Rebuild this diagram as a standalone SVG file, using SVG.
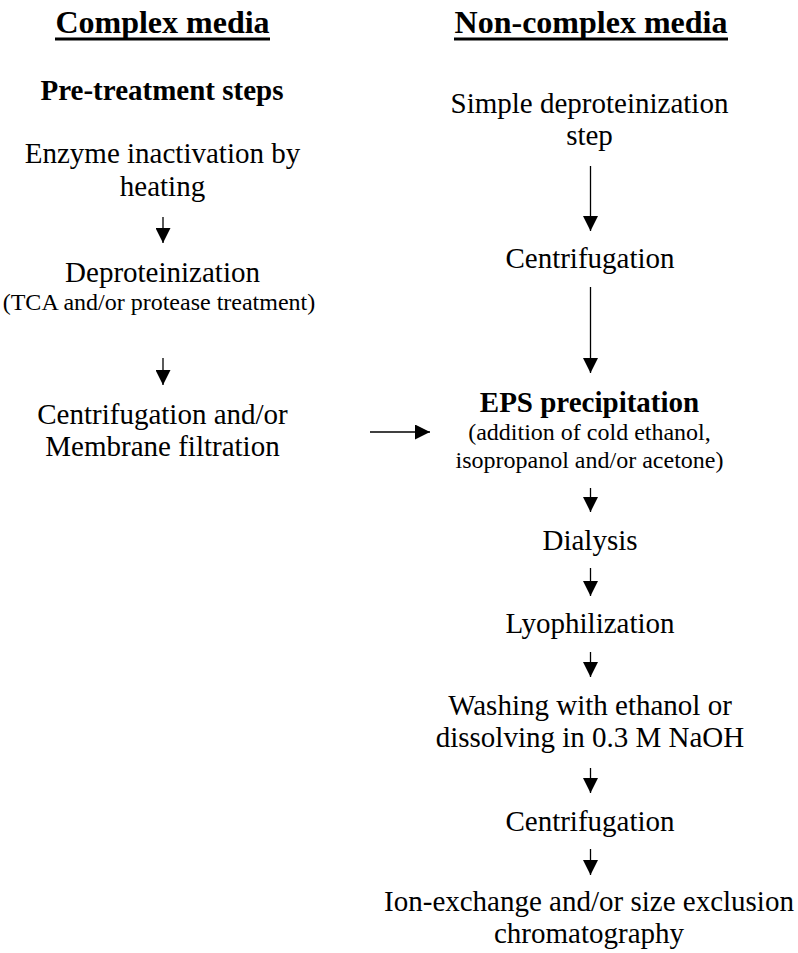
<svg xmlns="http://www.w3.org/2000/svg" width="798" height="953" viewBox="0 0 798 953">
<style>
text{font-family:"Liberation Serif","Times New Roman",serif;fill:#000;text-anchor:middle}
.h{font-size:32px;font-weight:bold}
.b{font-size:29px;font-weight:bold}
.t{font-size:29px}
.s{font-size:24px}
.c line{stroke:#000;stroke-width:1.3;marker-end:url(#ah)}
</style>
<defs>
<marker id="ah" markerUnits="userSpaceOnUse" markerWidth="15" markerHeight="15" refX="15" refY="7.5" orient="auto">
<path d="M0,0 L15,7.5 L0,15 z" fill="#000"/>
</marker>
</defs>
<rect width="798" height="953" fill="#fff"/>
<g id="head-complex"><text class="h" x="162.5" y="33">Complex media</text><rect x="55" y="37.5" width="215" height="3" fill="#000"/></g>
<g id="head-noncomplex"><text class="h" x="591" y="33">Non-complex media</text><rect x="454" y="37.5" width="274" height="3" fill="#000"/></g>
<g id="pretreat"><text class="b" x="162" y="100">Pre-treatment steps</text></g>
<g id="enzyme"><text class="t" x="162.5" y="163">Enzyme inactivation by</text><text class="t" x="162.5" y="196">heating</text></g>
<g id="deprot"><text class="t" x="162.5" y="282">Deproteinization</text><text class="s" x="159" y="310">(TCA and/or protease treatment)</text></g>
<g id="centmem"><text class="t" x="162.5" y="424">Centrifugation and/or</text><text class="t" x="162.5" y="456">Membrane filtration</text></g>
<g id="simple"><text class="t" x="589.5" y="113">Simple deproteinization</text><text class="t" x="589.5" y="145">step</text></g>
<g id="cent1"><text class="t" x="590" y="268">Centrifugation</text></g>
<g id="eps"><text class="b" x="589.5" y="412">EPS precipitation</text><text class="s" x="589.5" y="440">(addition of cold ethanol,</text><text class="s" x="589.5" y="468">isopropanol and/or acetone)</text></g>
<g id="dialysis"><text class="t" x="590" y="550">Dialysis</text></g>
<g id="lyo"><text class="t" x="590" y="633">Lyophilization</text></g>
<g id="wash"><text class="t" x="590" y="715">Washing with ethanol or</text><text class="t" x="590" y="747">dissolving in 0.3 M NaOH</text></g>
<g id="cent2"><text class="t" x="590" y="831">Centrifugation</text></g>
<g id="ion"><text class="t" x="589" y="911">Ion-exchange and/or size exclusion</text><text class="t" x="589" y="943">chromatography</text></g>
<g id="connectors" class="c">
<line x1="163" y1="217" x2="163" y2="243"/>
<line x1="163" y1="358" x2="163" y2="385"/>
<line x1="370" y1="432" x2="430" y2="432"/>
<line x1="590.5" y1="166" x2="590.5" y2="231"/>
<line x1="590.5" y1="287" x2="590.5" y2="373"/>
<line x1="590.5" y1="488" x2="590.5" y2="512"/>
<line x1="590.5" y1="568" x2="590.5" y2="596"/>
<line x1="590.5" y1="652" x2="590.5" y2="677"/>
<line x1="590.5" y1="768" x2="590.5" y2="793"/>
<line x1="590.5" y1="849" x2="590.5" y2="875"/>
</g>
</svg>
